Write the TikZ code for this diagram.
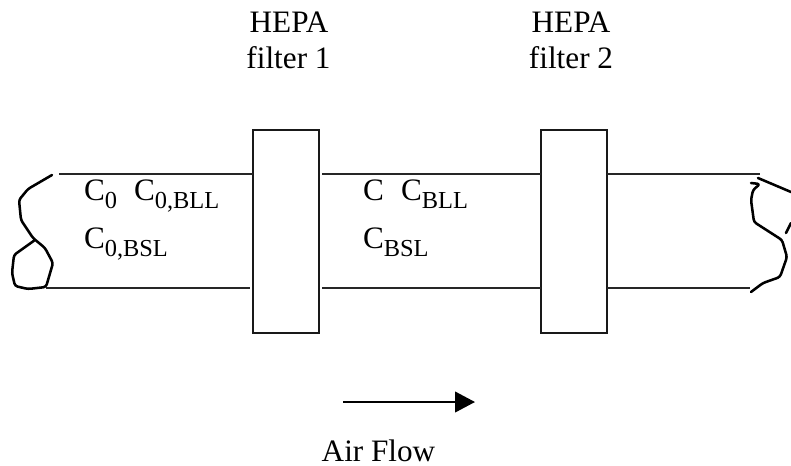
\documentclass[tikz,border=0pt]{standalone}
\usepackage{fontspec}
\setmainfont{Liberation Serif}
\usetikzlibrary{arrows.meta}
\newcommand{\lowsub}[1]{\raisebox{-6pt}{\fontsize{18.3}{20}\selectfont #1}}
\tikzset{
  x=0.75pt,y=-0.75pt,
  pipe/.style={line width=1.5pt,draw=black!85},
  filterbox/.style={draw=black!90,line width=1.5pt,fill=none,minimum width=49.5pt,minimum height=152.5pt,inner sep=0pt,outer sep=0pt},
  ragged/.style={line width=1.9pt,line join=round,line cap=round,rounded corners=2pt,black},
  lbl/.style={font=\fontsize{23.4}{28}\selectfont,inner sep=0pt,outer sep=0pt,anchor=base west},
  title/.style={font=\fontsize{23.4}{28}\selectfont,inner sep=0pt,outer sep=0pt,anchor=base},
}
\begin{document}
\begin{tikzpicture}
\useasboundingbox (0,0) rectangle (791,465);
% filters
\node[filterbox] (f1) at (285.7,231.5) {};
\node[filterbox] (f2) at (573.7,231.5) {};
% pipe end points
\coordinate (tl) at (59,174.3);
\coordinate (bl) at (46,288.3);
\coordinate (bl2) at (250,288.3);
\coordinate (tm) at (322,174.3);
\coordinate (bm) at (322,288.3);
\coordinate (tr) at (760,174.3);
\coordinate (br) at (750,288.3);
\draw[pipe] (tl) -- (tl -| f1.west);
\draw[pipe] (bl) -- (bl2);
\draw[pipe] (tm) -- (tm -| f2.west);
\draw[pipe] (bm) -- (bm -| f2.west);
\draw[pipe] (tr -| f2.east) -- (tr);
\draw[pipe] (br -| f2.east) -- (br);
% torn ends
\draw[ragged] (52,175) -- (28,189) -- (19,200) -- (21,220) -- (33,238) -- (45,248) -- (53,263) -- (46,287) -- (28,289) -- (15,286) -- (12,273) -- (14,255) -- (35,240);
\draw[ragged] (751,183) -- (760,184) -- (753,190) -- (751,200) -- (754,222) -- (782,240) -- (787,257) -- (780,277) -- (763,283) -- (751,292);
\draw[ragged] (758,178) -- (791,192);
\draw[ragged] (791,223) -- (786,233);
% labels
\node[title] (h1) at (289,32) {HEPA};
\node[title] (h1b) at (288.5,68) {filter 1};
\node[title] (h2) at (571,32) {HEPA};
\node[title] (h2b) at (571,68) {filter 2};
\node[lbl] (c0) at (84,200) {C\lowsub{0}};
\node[lbl] (c0bll) at (134,200) {C\lowsub{0,BLL}};
\node[lbl] (c0bsl) at (84,248) {C\lowsub{0,BSL}};
\node[lbl] (c) at (363,200) {C};
\node[lbl] (cbll) at (401,200) {C\lowsub{BLL}};
\node[lbl] (cbsl) at (363,248) {C\lowsub{BSL}};
% air flow
\coordinate (a1) at (343,402);
\coordinate (a2) at (475,402);
\draw[line width=1.5pt,-{Triangle[length=15pt,width=15.5pt]}] (a1) -- (a2);
\node[title] (af) at (378.5,461) {Air Flow};
\end{tikzpicture}
\end{document}
